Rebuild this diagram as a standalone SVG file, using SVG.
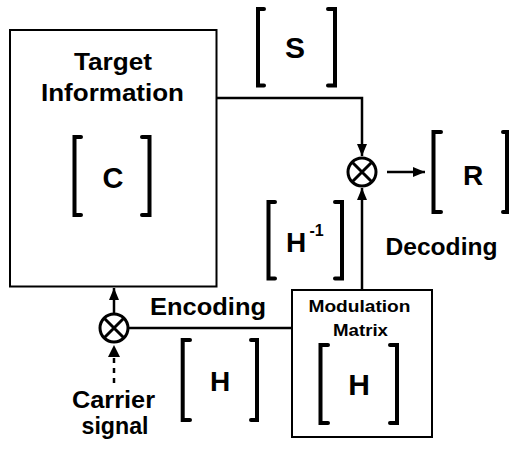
<svg xmlns="http://www.w3.org/2000/svg" width="510" height="449" viewBox="0 0 510 449">
  <defs>
    <style>
      .box { fill: #fff; stroke: #000; stroke-width: 2; }
      .br { fill: none; stroke: #000; stroke-width: 4; stroke-linecap: round; stroke-linejoin: miter; }
      .t { font-family: "Liberation Sans", Arial, sans-serif; font-weight: bold; fill: #000; text-anchor: middle; }
      .c { fill: none; stroke: #000; stroke-width: 2.5; }
      .dash { stroke-dasharray: 5 5; }
      .op { fill: #fff; stroke: #000; stroke-width: 3; }
      .opx { stroke: #000; stroke-width: 3; }
    </style>
    <marker id="arr" viewBox="0 0 12 10" refX="12" refY="5" markerWidth="12" markerHeight="10" markerUnits="userSpaceOnUse" orient="auto">
      <path d="M0,0 L12,5 L0,10 z" fill="#000"/>
    </marker>
  </defs>
  <rect width="510" height="449" fill="#fff"/>

  <g id="connectors">
    <path class="c" d="M217,98 H362 V156" marker-end="url(#arr)"/>
    <path class="c" d="M362,290 V188" marker-end="url(#arr)"/>
    <path class="c" d="M387,172 H425" marker-end="url(#arr)"/>
    <path class="c" d="M292,328 H128"/>
    <path class="c" d="M114,314 V288" marker-end="url(#arr)"/>
    <path class="c dash" d="M114,383 V352"/>
    <path d="M108,357 L114,345 L120,357 z" fill="#000"/>
  </g>

  <g id="target">
    <rect class="box" x="10" y="30" width="206.5" height="256.5"/>
    <text class="t" x="113" y="70" font-size="24" textLength="78" lengthAdjust="spacingAndGlyphs">Target</text>
    <text class="t" x="112.5" y="101" font-size="24" textLength="143" lengthAdjust="spacingAndGlyphs">Information</text>
    <path class="br" d="M81,137 H74.5 V215 H81"/>
    <path class="br" d="M142,137 H149.5 V215 H142"/>
    <text class="t" x="113" y="188" font-size="29">C</text>
  </g>

  <g id="matrix-s">
    <path class="br" d="M264,9 H258 V85.5 H264"/>
    <path class="br" d="M328,9 H335 V85.5 H328"/>
    <text class="t" x="295" y="58" font-size="30">S</text>
  </g>

  <g id="mult-decode">
    <circle class="op" cx="362" cy="172" r="14"/>
    <path class="opx" d="M352.5,162.5 L371.5,181.5 M371.5,162.5 L352.5,181.5"/>
  </g>

  <g id="matrix-r">
    <path class="br" d="M441,132 H433.5 V212 H441"/>
    <path class="br" d="M503,132 H507 V212 H503"/>
    <text class="t" x="473" y="185" font-size="28">R</text>
  </g>

  <g id="decoding-label">
    <text class="t" x="441.5" y="255" font-size="24" textLength="112" lengthAdjust="spacingAndGlyphs">Decoding</text>
  </g>

  <g id="matrix-hinv">
    <path class="br" d="M275,202 H268.5 V278.5 H275"/>
    <path class="br" d="M335,202 H342 V278.5 H335"/>
    <text class="t" x="296" y="252" font-size="28">H</text>
    <text class="t" x="316.5" y="236" font-size="16">-1</text>
  </g>

  <g id="modulation">
    <rect class="box" x="292" y="290" width="140" height="147"/>
    <text class="t" x="359.5" y="312" font-size="17" textLength="102" lengthAdjust="spacingAndGlyphs">Modulation</text>
    <text class="t" x="360.5" y="336" font-size="17" textLength="55" lengthAdjust="spacingAndGlyphs">Matrix</text>
    <path class="br" d="M328,345 H320.5 V423 H328"/>
    <path class="br" d="M390,345 H397 V423 H390"/>
    <text class="t" x="359" y="395" font-size="30">H</text>
  </g>

  <g id="mult-encode">
    <circle class="op" cx="114" cy="328" r="14"/>
    <path class="opx" d="M104.5,318.5 L123.5,337.5 M123.5,318.5 L104.5,337.5"/>
  </g>

  <g id="encoding-label">
    <text class="t" x="208" y="315" font-size="24" textLength="116" lengthAdjust="spacingAndGlyphs">Encoding</text>
  </g>

  <g id="matrix-h">
    <path class="br" d="M190,340 H182.7 V420 H190"/>
    <path class="br" d="M251,340 H257 V420 H251"/>
    <text class="t" x="220" y="391" font-size="28">H</text>
  </g>

  <g id="carrier">
    <text class="t" x="113.5" y="408" font-size="24" textLength="83" lengthAdjust="spacingAndGlyphs">Carrier</text>
    <text class="t" x="115" y="434" font-size="24" textLength="67" lengthAdjust="spacingAndGlyphs">signal</text>
  </g>
</svg>
